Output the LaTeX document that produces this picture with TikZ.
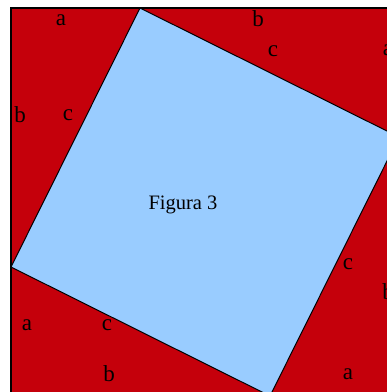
\documentclass[tikz,border=0pt]{standalone}
\usepackage{fontspec}
\setmainfont{Liberation Serif}
\definecolor{tri}{HTML}{C5000B}
\definecolor{sq}{HTML}{99CCFF}
\begin{document}
\begin{tikzpicture}[x=1pt,y=-1pt,
  lab/.style={inner sep=0pt,font=\fontsize{23}{25}\selectfont},
  outline/.style={draw=black,line width=1.3pt}]
\useasboundingbox (0,0) rectangle (387,392);
\clip (0,0) rectangle (387,392);
% outer square corners
\coordinate (O1) at (11,8);
\coordinate (O2) at (399,8);
\coordinate (O3) at (399,396);
\coordinate (O4) at (11,396);
% inner square corners
\coordinate (P1) at (140,8);
\coordinate (P2) at (399,137);
\coordinate (P3) at (270,396);
\coordinate (P4) at (11,267);
\fill[tri] (O1) -- (O2) -- (O3) -- (O4) -- cycle;
\draw[outline] (O1) -- (O2) -- (O3) -- (O4) -- cycle;
\draw[outline,fill=sq,line width=1pt] (P1) -- (P2) -- (P3) -- (P4) -- cycle;
% labels
\node[lab] (a1) at (61,20) {a};
\node[lab] (b1) at (20,115) {b};
\node[lab] (c1) at (68,115) {c};
\node[lab] (b2) at (258,19) {b};
\node[lab] (c2) at (273,51) {c};
\node[lab] (a2) at (388,50) {a};
\node[lab] (c3) at (348,264) {c};
\node[lab] (b3) at (388,292) {b};
\node[lab] (a3) at (348,374) {a};
\node[lab] (a4) at (27,325) {a};
\node[lab] (c4) at (107,325) {c};
\node[lab] (b4) at (109,374) {b};
\node[inner sep=0pt,font=\fontsize{20.5}{23}\selectfont] (fig) at (183,205) {Figura 3};
\end{tikzpicture}
\end{document}
